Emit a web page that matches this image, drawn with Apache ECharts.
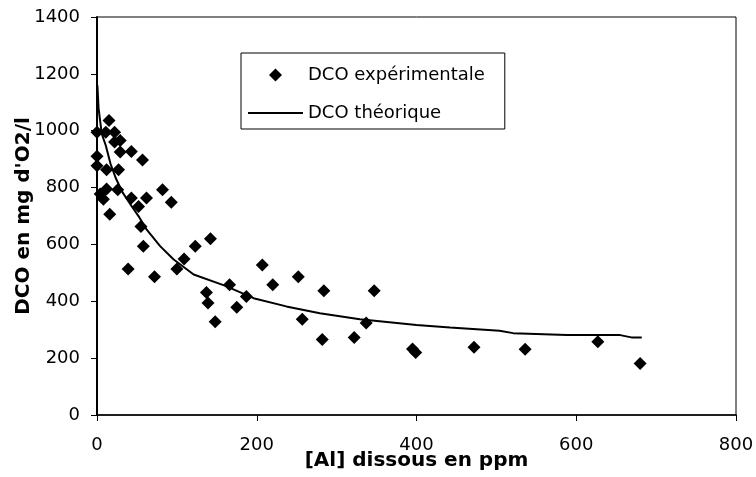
<!DOCTYPE html>
<html>
<head>
<meta charset="UTF-8">
<title>DCO</title>
<script type="text/javascript" src="https://cdn.jsdelivr.net/npm/echarts@6/dist/echarts.min.js"></script>
<style>
  body { margin: 0; background: #fff; }
  #main { width: 756px; height: 477px; }
</style>
</head>
<body>
<div id="main"></div>
<script>
// valeurs experimentales : [Al] dissous (ppm)
var alExp = [15, 0, 11, 22, 29, 22, 29, 43, 57, 0, 0, 12, 27, 4, 12, 26, 8, 43, 62, 82, 93, 52, 16, 55, 58, 123,
  109, 100, 39, 72, 142, 137, 139, 148, 166, 175, 187, 207, 220, 252, 257, 284, 282, 322, 337, 347, 399, 395,
  472, 536, 627, 680];
// DCO mesuree (mg d'O2/l)
var dcoExp = [1036, 995, 995, 995, 966, 960, 925, 927, 897, 910, 877, 863, 863, 777, 795, 792, 759, 763, 763, 792, 748, 733, 706, 663, 594, 594,
  549, 514, 514, 486, 620, 431, 394, 328, 458, 379, 417, 528, 458, 486, 337, 437, 266, 273, 324, 437, 220, 232,
  238, 231, 258, 181];

// courbe theorique
var alTheo = [0.5, 2, 6, 11, 17, 24, 32, 43, 53, 62, 79, 96, 121, 160, 196, 237, 279, 329, 400, 442, 504, 521, 588, 655, 669, 682];
var dcoTheo = [1160, 1078, 989, 948, 883, 830, 783, 736, 695, 653, 594, 547, 494, 455, 411, 382, 358, 337, 317, 308, 296, 288, 281, 281, 273, 273];

var xTicks = [0, 200, 400, 600, 800];
var yTicks = [0, 200, 400, 600, 800, 1000, 1200, 1400];

function pairs(xs, ys) {
  var out = [];
  for (var i = 0; i < xs.length; i++) out.push([xs[i], ys[i]]);
  return out;
}

var police = 'DejaVu Sans';
var myChart = echarts.init(document.getElementById('main'));

myChart.setOption({
  animation: false,
  textStyle: { fontFamily: police, color: '#000' },
  grid: {
    left: 97, right: 20, top: 17, bottom: 62,
    containLabel: false,
    outerBoundsMode: 'none',
    show: true, borderColor: '#000', borderWidth: 1
  },
  legend: {
    orient: 'vertical',
    left: 241, top: 53,
    padding: [13, 20, 7, 7],
    itemGap: 20,
    itemWidth: 55, itemHeight: 13,
    symbolKeepAspect: true,
    borderColor: '#000', borderWidth: 1,
    textStyle: { fontFamily: police, fontSize: 18, color: '#000' },
    data: [
      { name: 'DCO expérimentale', icon: 'path://M5,0L10,5L5,10L0,5Z', itemStyle: { color: '#000' } },
      { name: 'DCO théorique', icon: 'path://M0,0L55,0L55,2L0,2Z', itemStyle: { color: '#000' } }
    ]
  },
  xAxis: {
    type: 'value',
    min: xTicks[0], max: xTicks[xTicks.length - 1], interval: 200,
    name: '[Al] dissous en ppm',
    nameLocation: 'middle',
    nameGap: 36,
    nameMoveOverlap: false,
    nameTextStyle: { fontFamily: police, fontWeight: 'bold', fontSize: 20, color: '#000' },
    axisLine: { lineStyle: { color: '#000', width: 1.5 } },
    axisTick: { show: true, length: 6, lineStyle: { color: '#000' } },
    axisLabel: { fontSize: 18, color: '#000', margin: 21, formatter: function (v) { return String(v); } },
    splitLine: { show: false }
  },
  yAxis: {
    type: 'value',
    min: yTicks[0], max: yTicks[yTicks.length - 1], interval: 200,
    name: "DCO en mg d'O2/l",
    nameLocation: 'middle',
    nameGap: 63,
    nameRotate: 90,
    nameMoveOverlap: false,
    nameTextStyle: { fontFamily: police, fontWeight: 'bold', fontSize: 20, color: '#000' },
    axisLine: { show: true, lineStyle: { color: '#000', width: 2 } },
    axisTick: { show: true, length: 6, lineStyle: { color: '#000' } },
    axisLabel: { fontSize: 18, color: '#000', margin: 17, formatter: function (v) { return String(v); } },
    splitLine: { show: false }
  },
  series: [
    {
      name: 'DCO expérimentale',
      type: 'scatter',
      symbol: 'diamond',
      symbolSize: 13,
      itemStyle: { color: '#000', opacity: 1 },
      data: pairs(alExp, dcoExp)
    },
    {
      name: 'DCO théorique',
      type: 'line',
      showSymbol: false,
      symbol: 'none',
      lineStyle: { color: '#000', width: 2 },
      itemStyle: { color: '#000' },
      data: pairs(alTheo, dcoTheo)
    }
  ]
});
</script>
</body>
</html>
